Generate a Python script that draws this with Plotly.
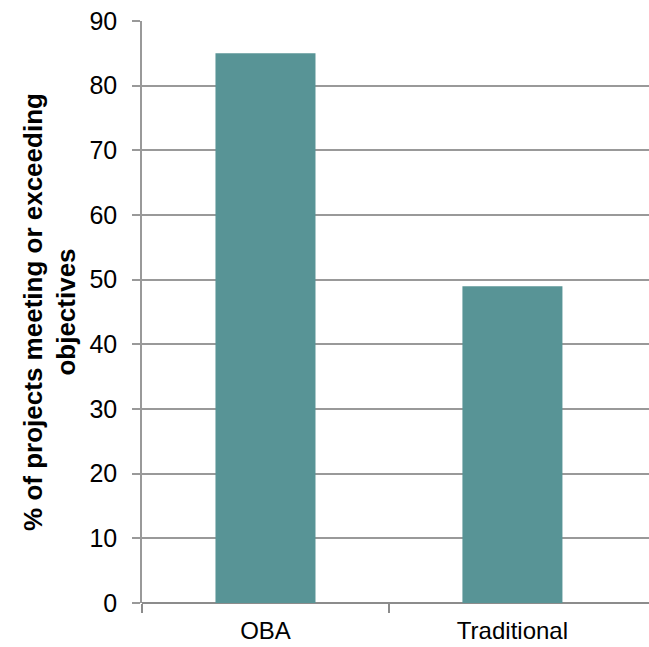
import plotly.graph_objects as go

categories = ["OBA", "Traditional"]
values = [85, 49]
y_ticks = [0, 10, 20, 30, 40, 50, 60, 70, 80, 90]

x_pos = list(range(len(categories)))
boundaries = [p - 0.5 for p in x_pos]
x_range = [-0.5, 1.553]

fig = go.Figure()
fig.add_trace(go.Bar(
    x=x_pos, y=values,
    marker=dict(color="#589496", line=dict(width=0)),
    width=0.405,
))
# invisible helper trace so the boundary-tick axis is drawn
fig.add_trace(go.Scatter(x=[boundaries[0]], y=[0], xaxis="x2", mode="markers",
                         marker=dict(opacity=0), hoverinfo="skip"))

fig.update_layout(
    width=649, height=647,
    margin=dict(l=142, r=0, t=21, b=44),
    paper_bgcolor="white", plot_bgcolor="white",
    showlegend=False,
    font=dict(family="Liberation Sans, Arial, sans-serif", size=25, color="#000000"),
    xaxis=dict(
        range=x_range, automargin=False,
        tickmode="array", tickvals=x_pos, ticktext=categories,
        ticks="", ticklen=0, showline=False, showgrid=False, zeroline=False,
        tickfont=dict(size=24),
        ticklabelstandoff=11,
    ),
    xaxis2=dict(
        overlaying="x", side="bottom", range=x_range, automargin=False,
        tickmode="array", tickvals=boundaries, ticktext=["" for _ in boundaries],
        ticks="outside", ticklen=9, tickcolor="#8c8c8c", tickwidth=1.5,
        showline=False, showgrid=False, zeroline=False, showticklabels=False,
    ),
    yaxis=dict(
        range=[0, 90], automargin=False,
        tickvals=y_ticks,
        showline=True, linecolor="#999999", linewidth=1.5,
        ticks="outside", ticklen=8, tickcolor="#999999", tickwidth=1.5,
        ticklabelstandoff=10,
        showgrid=True, gridcolor="#999999", gridwidth=1.5,
        zeroline=True, zerolinecolor="#8c8c8c", zerolinewidth=1.5,
        tickfont=dict(size=25),
        title=dict(text="<b>% of projects meeting or exceeding<br>objectives</b>",
                   font=dict(size=26), standoff=6),
    ),
)

fig.write_html("out.html")
